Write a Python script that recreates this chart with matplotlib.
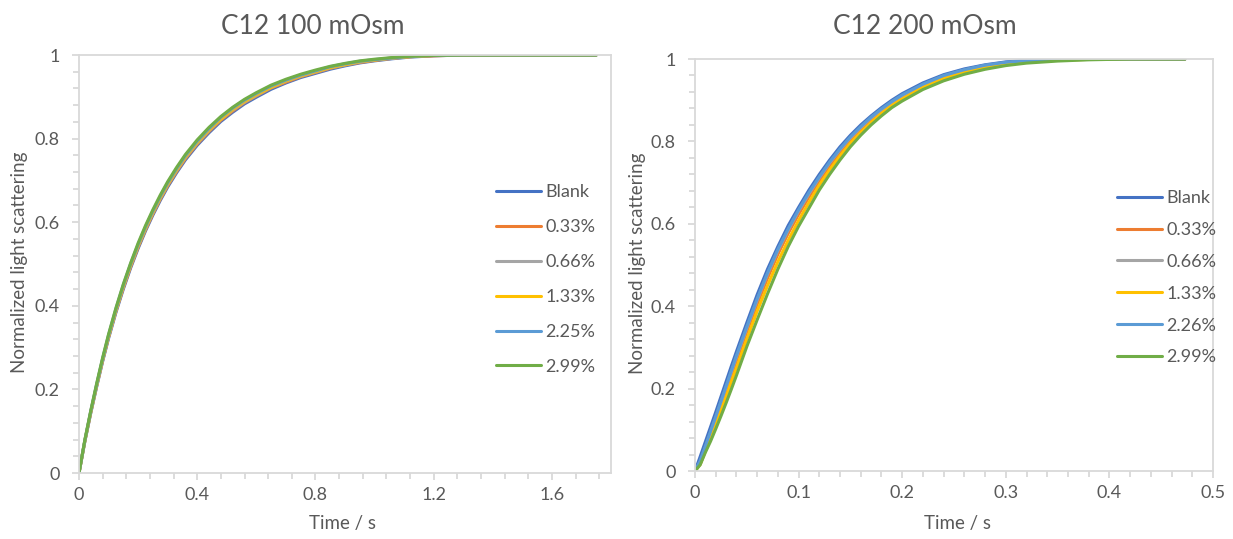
import matplotlib
matplotlib.use("Agg")
import matplotlib.pyplot as plt
from matplotlib.ticker import MultipleLocator, FixedLocator, FixedFormatter

plt.rcParams['font.family'] = ['Lato', 'DejaVu Sans']

# series names and colours (Excel default palette)
labels_100 = ['Blank', '0.33%', '0.66%', '1.33%', '2.25%', '2.99%']
labels_200 = ['Blank', '0.33%', '0.66%', '1.33%', '2.26%', '2.99%']
colors = ['#4472C4', '#ED7D31', '#A5A5A5', '#FFC000', '#5B9BD5', '#70AD47']

# C12 100 mOsm
t_100 = [0, 0.02, 0.04, 0.06, 0.08, 0.1, 0.125, 0.15, 0.175, 0.2, 0.225, 0.25, 0.275,
         0.3, 0.33, 0.36, 0.4, 0.44, 0.48, 0.52, 0.56, 0.6, 0.65, 0.7, 0.75, 0.8,
         0.85, 0.9, 0.95, 1.0, 1.06, 1.12, 1.2, 1.3, 1.45, 1.6, 1.75]
blank_100 = [0, 0.076, 0.144, 0.207, 0.267, 0.322, 0.384, 0.44, 0.491, 0.537, 0.579, 0.617, 0.652,
             0.684, 0.718, 0.749, 0.784, 0.814, 0.841, 0.863, 0.883, 0.899, 0.918, 0.933, 0.946, 0.956,
             0.966, 0.974, 0.981, 0.986, 0.991, 0.995, 0.998, 1.0, 1.0, 1.0, 1.0]
c033_100 = [0, 0.077, 0.146, 0.209, 0.269, 0.325, 0.387, 0.443, 0.494, 0.54, 0.582, 0.62, 0.655,
            0.687, 0.721, 0.752, 0.787, 0.817, 0.844, 0.866, 0.886, 0.902, 0.921, 0.935, 0.948, 0.958,
            0.968, 0.976, 0.982, 0.987, 0.992, 0.996, 0.998, 1.0, 1.0, 1.0, 1.0]
c066_100 = [0, 0.078, 0.146, 0.21, 0.271, 0.326, 0.388, 0.445, 0.496, 0.542, 0.584, 0.622, 0.657,
            0.689, 0.723, 0.754, 0.789, 0.819, 0.846, 0.868, 0.887, 0.903, 0.922, 0.937, 0.949, 0.959,
            0.969, 0.976, 0.983, 0.988, 0.992, 0.996, 0.999, 1.0, 1.0, 1.0, 1.0]
c133_100 = [0, 0.078, 0.147, 0.211, 0.272, 0.327, 0.39, 0.447, 0.498, 0.544, 0.586, 0.624, 0.659,
            0.691, 0.725, 0.756, 0.791, 0.821, 0.847, 0.87, 0.889, 0.905, 0.923, 0.938, 0.95, 0.96,
            0.97, 0.977, 0.984, 0.988, 0.993, 0.996, 0.999, 1.0, 1.0, 1.0, 1.0]
c225_100 = [0, 0.079, 0.149, 0.213, 0.274, 0.33, 0.393, 0.45, 0.501, 0.547, 0.589, 0.627, 0.662,
            0.694, 0.728, 0.759, 0.794, 0.824, 0.851, 0.873, 0.892, 0.908, 0.926, 0.94, 0.952, 0.962,
            0.972, 0.979, 0.985, 0.989, 0.993, 0.997, 0.999, 1.0, 1.0, 1.0, 1.0]
c299_100 = [0, 0.08, 0.15, 0.215, 0.276, 0.332, 0.395, 0.452, 0.503, 0.55, 0.592, 0.63, 0.665,
            0.697, 0.731, 0.762, 0.797, 0.827, 0.853, 0.875, 0.894, 0.91, 0.928, 0.942, 0.954, 0.964,
            0.973, 0.98, 0.986, 0.99, 0.994, 0.997, 0.999, 1.0, 1.0, 1.0, 1.0]

# C12 200 mOsm
t_200 = [0, 0.005, 0.01, 0.015, 0.02, 0.025, 0.03, 0.035, 0.04, 0.05, 0.06, 0.07, 0.08,
         0.09, 0.1, 0.11, 0.12, 0.13, 0.14, 0.15, 0.16, 0.17, 0.18, 0.19, 0.2, 0.22,
         0.24, 0.26, 0.28, 0.3, 0.32, 0.35, 0.38, 0.42, 0.473]
blank_200 = [0, 0.035, 0.071, 0.107, 0.143, 0.18, 0.217, 0.254, 0.29, 0.36, 0.428, 0.49, 0.545,
             0.596, 0.64, 0.682, 0.72, 0.755, 0.787, 0.815, 0.84, 0.862, 0.882, 0.9, 0.916, 0.942,
             0.962, 0.976, 0.986, 0.993, 0.997, 1.0, 1.0, 1.0, 1.0]
c033_200 = [0, 0.017, 0.05, 0.085, 0.121, 0.158, 0.195, 0.232, 0.268, 0.338, 0.405, 0.468, 0.526,
            0.577, 0.623, 0.665, 0.705, 0.741, 0.774, 0.804, 0.829, 0.852, 0.873, 0.891, 0.907, 0.934,
            0.955, 0.971, 0.982, 0.99, 0.995, 0.998, 1.0, 1.0, 1.0]
c066_200 = [0, 0.022, 0.057, 0.093, 0.129, 0.166, 0.203, 0.24, 0.277, 0.347, 0.415, 0.478, 0.535,
            0.585, 0.631, 0.673, 0.712, 0.748, 0.78, 0.809, 0.834, 0.857, 0.877, 0.895, 0.911, 0.937,
            0.958, 0.973, 0.984, 0.991, 0.996, 0.999, 1.0, 1.0, 1.0]
c133_200 = [0, 0.016, 0.048, 0.078, 0.11, 0.145, 0.18, 0.216, 0.25, 0.32, 0.388, 0.45, 0.508,
            0.56, 0.608, 0.652, 0.694, 0.731, 0.765, 0.796, 0.822, 0.846, 0.868, 0.887, 0.903, 0.931,
            0.952, 0.968, 0.98, 0.988, 0.993, 0.997, 0.999, 1.0, 1.0]
c226_200 = [0, 0.025, 0.06, 0.096, 0.132, 0.169, 0.206, 0.243, 0.28, 0.35, 0.418, 0.481, 0.538,
            0.588, 0.634, 0.676, 0.714, 0.75, 0.782, 0.811, 0.836, 0.859, 0.879, 0.897, 0.913, 0.939,
            0.96, 0.974, 0.985, 0.992, 0.996, 0.999, 1.0, 1.0, 1.0]
c299_200 = [0, 0.015, 0.045, 0.072, 0.102, 0.133, 0.165, 0.198, 0.232, 0.302, 0.367, 0.43, 0.49,
            0.545, 0.594, 0.638, 0.682, 0.72, 0.755, 0.787, 0.815, 0.84, 0.862, 0.882, 0.898, 0.926,
            0.947, 0.963, 0.975, 0.984, 0.99, 0.995, 0.998, 1.0, 1.0]

x_ticks_100 = [0, 0.4, 0.8, 1.2, 1.6]
x_labels_100 = ['0', '0.4', '0.8', '1.2', '1.6']
x_ticks_200 = [0, 0.1, 0.2, 0.3, 0.4, 0.5]
x_labels_200 = ['0', '0.1', '0.2', '0.3', '0.4', '0.5']
y_ticks = [0, 0.2, 0.4, 0.6, 0.8, 1.0]
y_labels = ['0', '0.2', '0.4', '0.6', '0.8', '1']

TXT = '#595959'
EDGE = '#D9D9D9'
W, H = 1233, 539

fig = plt.figure(figsize=(W / 100, H / 100), dpi=100)


def px_axes(x0, y0, x1, y1):
    return fig.add_axes([x0 / W, 1 - y1 / H, (x1 - x0) / W, (y1 - y0) / H])


def style(ax, xmax, xt, xl, xminor):
    ax.set_xlim(0, xmax)
    ax.set_ylim(0, 1)
    ax.xaxis.set_major_locator(FixedLocator(xt))
    ax.xaxis.set_major_formatter(FixedFormatter(xl))
    ax.xaxis.set_minor_locator(MultipleLocator(xminor))
    ax.yaxis.set_major_locator(FixedLocator(y_ticks))
    ax.yaxis.set_major_formatter(FixedFormatter(y_labels))
    ax.yaxis.set_minor_locator(MultipleLocator(0.04))
    for s in ax.spines.values():
        s.set_color(EDGE)
        s.set_linewidth(1.3)
    ax.tick_params(which='both', direction='out', color=EDGE, width=1.3,
                   labelcolor=TXT, labelsize=13)
    ax.tick_params(which='major', length=5, pad=5)
    ax.tick_params(which='minor', length=4)
    ax.tick_params(axis='y', which='major', pad=9)


# left panel
ax1 = px_axes(79, 55, 611, 473)
series_100 = [blank_100, c033_100, c066_100, c133_100, c225_100, c299_100]
for ys, c, lab in zip(series_100, colors, labels_100):
    ax1.plot(t_100, ys, color=c, lw=2.2, label=lab, solid_capstyle='round')
style(ax1, 1.8, x_ticks_100, x_labels_100, 0.08)
ax1.legend(loc='upper left', bbox_to_anchor=(496 / W, 1 - 184 / H),
           bbox_transform=fig.transFigure, frameon=False, fontsize=13,
           labelcolor=TXT, handlelength=2.5, handletextpad=0.22,
           labelspacing=1.05, borderpad=0, borderaxespad=0)

# right panel
ax2 = px_axes(695, 59, 1213, 471)
series_200 = [blank_200, c033_200, c066_200, c133_200, c226_200, c299_200]
for ys, c, lab in zip(series_200, colors, labels_200):
    ax2.plot(t_200, ys, color=c, lw=2.2, label=lab, solid_capstyle='round')
style(ax2, 0.5, x_ticks_200, x_labels_200, 0.02)
ax2.legend(loc='upper left', bbox_to_anchor=(1117 / W, 1 - 190 / H),
           bbox_transform=fig.transFigure, frameon=False, fontsize=13,
           labelcolor=TXT, handlelength=2.5, handletextpad=0.22,
           labelspacing=0.88, borderpad=0, borderaxespad=0)

# titles and axis titles
fig.text(313 / W, 1 - 27 / H, 'C12 100 mOsm', ha='center', va='center', fontsize=19, color=TXT)
fig.text(925 / W, 1 - 27 / H, 'C12 200 mOsm', ha='center', va='center', fontsize=19, color=TXT)
fig.text(20 / W, 1 - 262 / H, 'Normalized light scattering', rotation=90,
         ha='center', va='center', fontsize=13.5, color=TXT)
fig.text(637 / W, 1 - 263 / H, 'Normalized light scattering', rotation=90,
         ha='center', va='center', fontsize=13.5, color=TXT)
fig.text(343 / W, 1 - 523 / H, 'Time / s', ha='center', va='center', fontsize=13.5, color=TXT)
fig.text(957 / W, 1 - 523 / H, 'Time / s', ha='center', va='center', fontsize=13.5, color=TXT)

fig.savefig('out.png', dpi=100)
